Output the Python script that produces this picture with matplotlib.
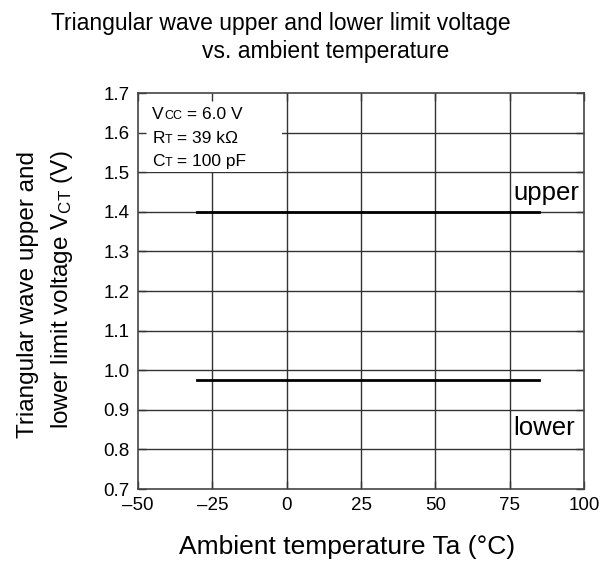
import matplotlib.pyplot as plt
from matplotlib.patches import Rectangle

plt.rcParams['font.family'] = ['Liberation Sans', 'DejaVu Sans']
plt.rcParams['mathtext.fontset'] = 'custom'
plt.rcParams['mathtext.rm'] = 'Liberation Sans'
plt.rcParams['mathtext.it'] = 'Liberation Sans'

# data
temp = [-30, 85]
upper_v = [1.40, 1.40]
lower_v = [0.975, 0.975]
xticks = [-50, -25, 0, 25, 50, 75, 100]
yticks = [0.7, 0.8, 0.9, 1.0, 1.1, 1.2, 1.3, 1.4, 1.5, 1.6, 1.7]
cond_main = ["V", "R", "C"]
cond_sub = ["CC", "T", "T"]
cond_val = [" = 6.0 V", " = 39 kΩ", " = 100 pF"]

fig = plt.figure(figsize=(6.05, 5.63), dpi=100)
ax = fig.add_axes([138 / 605, 1 - 489 / 563, 446 / 605, 396 / 563])

# grid lines drawn by hand so the condition box can cover them
gc = '#333333'
for x in xticks[1:-1]:
    ax.axvline(x, color=gc, lw=1.0, zorder=1)
for y in yticks[1:-1]:
    ax.axhline(y, color=gc, lw=1.0, zorder=1)

ax.add_patch(Rectangle((-50, 1.5), 48.5, 0.2, facecolor='white', edgecolor='none', zorder=1.5))

ax.plot(temp, upper_v, color='black', lw=2, zorder=2)
ax.plot(temp, lower_v, color='black', lw=2, zorder=2)

ax.set_xlim(-50, 100)
ax.set_ylim(0.7, 1.7)
ax.set_xticks(xticks)
ax.set_yticks(yticks)
ax.set_xticklabels([f"{v}".replace('-', '\u2013') for v in xticks])
ax.set_yticklabels([f"{v:.1f}" for v in yticks])
ax.tick_params(direction='in', length=6, width=1.0, color=gc, labelsize=13.5,
               top=True, right=True, pad=6)
for s in ax.spines.values():
    s.set_color('#444444')
    s.set_linewidth(1.2)

# condition text with small baseline subscripts
ys = [1.634, 1.574, 1.516]
for m, sub, val, y in zip(cond_main, cond_sub, cond_val, ys):
    t1 = ax.text(-45.2, y, m, fontsize=12.5, va='baseline', zorder=3)
    t2 = ax.annotate(sub, xy=(1, 0), xycoords=t1, va='bottom', ha='left', fontsize=9, zorder=3)
    ax.annotate(val, xy=(1, 0), xycoords=t1, xytext=(1, 0), textcoords=t2,
                va='bottom', ha='left', fontsize=12.5, zorder=3)

ax.text(76.3, 1.447, "upper", fontsize=18.5, va='center', ha='left')
ax.text(76.3, 0.854, "lower", fontsize=18.5, va='center', ha='left')

fig.text(281 / 605, 1 - 30 / 563, "Triangular wave upper and lower limit voltage",
         fontsize=16.5, ha='center', va='baseline')
fig.text(326 / 605, 1 - 58 / 563, "vs. ambient temperature",
         fontsize=16.5, ha='center', va='baseline')

fig.text(28 / 605, 1 - 294 / 563, "Triangular wave upper and", rotation=90,
         fontsize=17.5, ha='center', va='center')
fig.text(62 / 605, 1 - 290 / 563, r"lower limit voltage V$_{\mathregular{CT}}$ (V)", rotation=90,
         fontsize=17.5, ha='center', va='center')

fig.text(347 / 605, 1 - 547 / 563, "Ambient temperature Ta (°C)",
         fontsize=19, ha='center', va='center')

fig.savefig("out.png", dpi=100)
